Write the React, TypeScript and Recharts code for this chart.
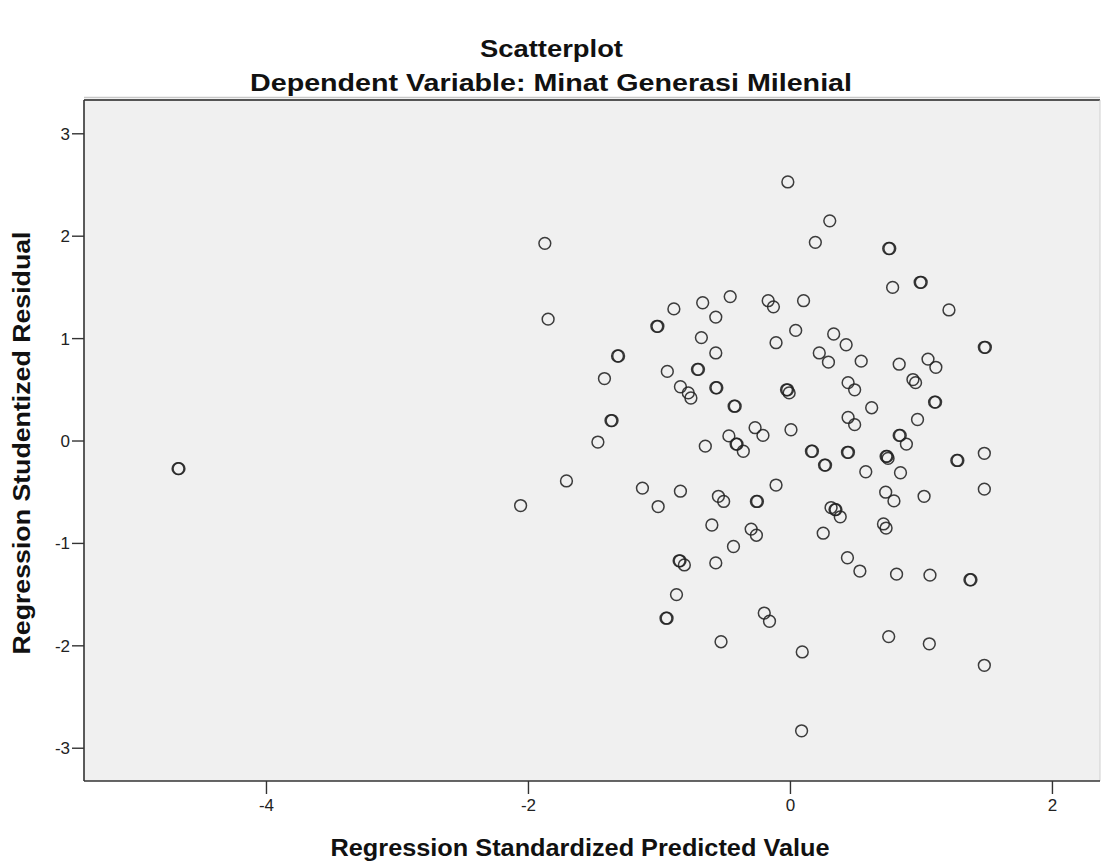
import React from "react";
import {
  ScatterChart,
  Scatter,
  XAxis,
  YAxis,
  CartesianGrid,
  ReferenceLine,
} from "recharts";

// Regression Standardized Predicted Value (x) and Regression Studentized Residual (y)
const predicted: number[] = [
  -4.675, -4.668, -2.06, -1.875, -1.85, -1.71, -1.47, -1.42, -1.37, -1.362,
  -1.32, -1.312, -1.13, -1.02, -1.012, -1.01, -0.95, -0.942, -0.94, -0.89,
  -0.87, -0.85, -0.843, -0.81, -0.84, -0.84, -0.78, -0.76, -0.71, -0.702,
  -0.68, -0.67, -0.65, -0.6, -0.57, -0.57, -0.57, -0.562, -0.57, -0.55,
  -0.51, -0.53, -0.47, -0.46, -0.435, -0.43, -0.422, -0.415, -0.408, -0.36,
  -0.3, -0.27, -0.26, -0.252, -0.26, -0.21, -0.2, -0.17, -0.16, -0.13,
  -0.11, -0.11, -0.03, -0.022, -0.01, -0.02, 0.004, 0.04, 0.085, 0.09,
  0.1, 0.16, 0.168, 0.19, 0.22, 0.25, 0.26, 0.268, 0.29, 0.3,
  0.31, 0.34, 0.347, 0.38, 0.33, 0.425, 0.435, 0.443, 0.435, 0.44,
  0.44, 0.49, 0.49, 0.53, 0.54, 0.575, 0.62, 0.71, 0.73, 0.727,
  0.73, 0.738, 0.745, 0.75, 0.758, 0.75, 0.78, 0.79, 0.81, 0.83,
  0.83, 0.838, 0.84, 0.885, 0.935, 0.955, 0.97, 0.99, 0.998, 1.02,
  1.05, 1.06, 1.065, 1.1, 1.108, 1.11, 1.21, 1.27, 1.278, 1.37,
  1.378, 1.48, 1.488, 1.48, 1.48, 1.48,
];

const residual: number[] = [
  -0.27, -0.27, -0.63, 1.93, 1.19, -0.39, -0.01, 0.61, 0.2, 0.2,
  0.83, 0.83, -0.46, 1.12, 1.12, -0.64, -1.73, -1.73, 0.68, 1.29,
  -1.5, -1.17, -1.17, -1.21, 0.53, -0.49, 0.47, 0.42, 0.7, 0.7,
  1.01, 1.35, -0.05, -0.82, 1.21, 0.86, 0.52, 0.52, -1.19, -0.54,
  -0.59, -1.96, 0.05, 1.41, -1.03, 0.34, 0.34, -0.03, -0.03, -0.1,
  -0.86, 0.13, -0.59, -0.59, -0.92, 0.055, -1.68, 1.37, -1.76, 1.31,
  0.96, -0.43, 0.5, 0.5, 0.47, 2.53, 0.11, 1.08, -2.83, -2.06,
  1.37, -0.1, -0.1, 1.94, 0.86, -0.9, -0.235, -0.235, 0.77, 2.15,
  -0.65, -0.67, -0.67, -0.74, 1.045, 0.94, -0.11, -0.11, -1.14, 0.57,
  0.23, 0.5, 0.16, -1.27, 0.78, -0.3, 0.325, -0.81, -0.85, -0.5,
  -0.15, -0.15, -0.17, 1.88, 1.88, -1.91, 1.5, -0.585, -1.3, 0.75,
  0.055, 0.055, -0.31, -0.03, 0.6, 0.57, 0.21, 1.55, 1.55, -0.54,
  0.8, -1.98, -1.31, 0.38, 0.38, 0.72, 1.28, -0.19, -0.19, -1.355,
  -1.355, 0.915, 0.915, -0.12, -0.47, -2.19,
];

const xTicks: number[] = [-4, -2, 0, 2];
const yTicks: number[] = [-3, -2, -1, 0, 1, 2, 3];

const chartTitle = "Scatterplot";
const chartSubtitle = "Dependent Variable: Minat Generasi Milenial";
const xTitle = "Regression Standardized Predicted Value";
const yTitle = "Regression Studentized Residual";

const points = predicted.map((x, i) => ({ x, y: residual[i] }));

const X_DOMAIN: [number, number] = [-5.393, 2.363];
const Y_DOMAIN: [number, number] = [-3.32, 3.33];

const FONT = "'Liberation Sans', Arial, Helvetica, sans-serif";

const Ring = (props: any) => {
  const { cx, cy } = props;
  if (cx == null || cy == null) return null;
  return (
    <circle
      cx={cx}
      cy={cy}
      r={5.9}
      fill="none"
      stroke="#222"
      strokeWidth={1.5}
      strokeOpacity={0.88}
    />
  );
};

export default function App() {
  return (
    <div
      style={{
        position: "absolute",
        left: 0,
        top: 0,
        width: 1101,
        height: 866,
        background: "#ffffff",
      }}
    >
      <ScatterChart
        width={1101}
        height={866}
        margin={{ top: 100, right: 1, bottom: 45, left: 0 }}
      >
        <CartesianGrid
          fill="#f0f0f0"
          horizontal={false}
          vertical={false}
          stroke="none"
        />
        <XAxis
          type="number"
          dataKey="x"
          domain={X_DOMAIN}
          ticks={xTicks}
          allowDataOverflow
          height={40}
          tickSize={13}
          tickMargin={5}
          axisLine={{ stroke: "#333", strokeWidth: 1.6 }}
          tickLine={{ stroke: "#333", strokeWidth: 1.4 }}
          tick={{ fontSize: 17, fill: "#222", fontFamily: FONT }}
        />
        <YAxis
          type="number"
          dataKey="y"
          domain={Y_DOMAIN}
          ticks={yTicks}
          allowDataOverflow
          width={84}
          tickSize={12}
          tickMargin={2}
          axisLine={{ stroke: "#333", strokeWidth: 1.6 }}
          tickLine={{ stroke: "#333", strokeWidth: 1.4 }}
          tick={{ fontSize: 17, fill: "#222", fontFamily: FONT }}
        />
        <ReferenceLine y={Y_DOMAIN[1]} stroke="#555" strokeWidth={2} ifOverflow="visible" />
        <ReferenceLine x={X_DOMAIN[1]} stroke="#d0d0d0" strokeWidth={1} ifOverflow="visible" />
        <Scatter data={points} shape={Ring} isAnimationActive={false} />
      </ScatterChart>
      <svg
        width={1101}
        height={866}
        style={{ position: "absolute", left: 0, top: 0, pointerEvents: "none" }}
      >
        <line x1={84} x2={1100} y1={97.5} y2={97.5} stroke="#c8c8c8" strokeWidth={1.5} />
        <text
          x={551.5}
          y={57}
          textAnchor="middle"
          fontFamily={FONT}
          fontWeight="bold"
          fontSize={23}
          fill="#111"
          textLength={143}
          lengthAdjust="spacingAndGlyphs"
        >
          {chartTitle}
        </text>
        <text
          x={551}
          y={91}
          textAnchor="middle"
          fontFamily={FONT}
          fontWeight="bold"
          fontSize={23}
          fill="#111"
          textLength={602}
          lengthAdjust="spacingAndGlyphs"
        >
          {chartSubtitle}
        </text>
        <text
          x={580}
          y={856}
          textAnchor="middle"
          fontFamily={FONT}
          fontWeight="bold"
          fontSize={23}
          fill="#111"
          textLength={499}
          lengthAdjust="spacingAndGlyphs"
        >
          {xTitle}
        </text>
        <text
          x={0}
          y={0}
          transform="translate(30,443) rotate(-90)"
          textAnchor="middle"
          fontFamily={FONT}
          fontWeight="bold"
          fontSize={23}
          fill="#111"
          textLength={423}
          lengthAdjust="spacingAndGlyphs"
        >
          {yTitle}
        </text>
      </svg>
    </div>
  );
}
